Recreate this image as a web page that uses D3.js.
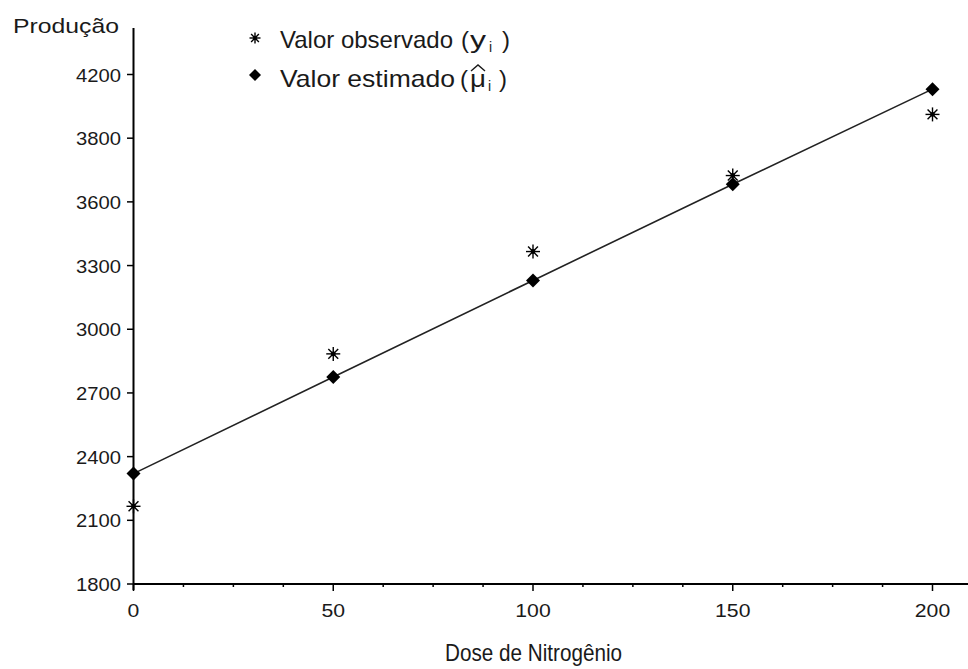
<!DOCTYPE html>
<html><head><meta charset="utf-8">
<script src="https://cdn.jsdelivr.net/npm/d3@7"></script>
<style>
body{margin:0;background:#fff;}
svg{display:block;font-family:Arial,"Liberation Sans",sans-serif;}
</style></head>
<body>
<svg id="chart" width="968" height="669"></svg>
<script>
const doses = [0, 50, 100, 150, 200];
const observed = [2166, 2884, 3366, 3724, 4012];
const estimated = [2320, 2775, 3230, 3683, 4131];
const yTickValues = [1800, 2100, 2400, 2700, 3000, 3300, 3600, 3900, 4200];
const yTickLabels = ["1800", "2100", "2400", "2700", "3000", "3300", "3600", "3800", "4200"];
const xTickValues = [0, 50, 100, 150, 200];
const xMinorTicks = d3.range(0, 210.1, 12.5);

const svg = d3.select("#chart");
const x = d3.scaleLinear().domain([0, 200]).range([133.5, 932.5]);
const y = d3.scaleLinear().domain([1800, 4200]).range([584, 74.5]);
const ink = "#1a1a1a";

// axes
const xAxis = svg.append("g").attr("transform", "translate(0,584)");
xAxis.append("line").attr("x1", 133).attr("x2", 968).attr("y1", 0).attr("y2", 0).attr("stroke", "#000").attr("stroke-width", 2);
xAxis.selectAll("line.minor").data(xMinorTicks.filter(d => d % 50 !== 0)).enter().append("line")
  .attr("class", "minor").attr("x1", d => x(d)).attr("x2", d => x(d)).attr("y1", 0).attr("y2", 3)
  .attr("stroke", "#000").attr("stroke-width", 1.5);
xAxis.selectAll("line.major").data(xTickValues).enter().append("line")
  .attr("class", "major").attr("x1", d => x(d)).attr("x2", d => x(d)).attr("y1", 0).attr("y2", 7)
  .attr("stroke", "#000").attr("stroke-width", 1.5);
xAxis.selectAll("text").data(xTickValues).enter().append("text")
  .attr("x", d => x(d)).attr("y", 33).attr("text-anchor", "middle")
  .attr("font-size", 19).attr("fill", ink)
  .attr("textLength", d => String(d).length * 11.8).attr("lengthAdjust", "spacingAndGlyphs")
  .text(d => d);

const yAxis = svg.append("g");
yAxis.append("line").attr("x1", 133.5).attr("x2", 133.5).attr("y1", 28).attr("y2", 590).attr("stroke", "#000").attr("stroke-width", 2);
yAxis.selectAll("line.tick").data(yTickValues).enter().append("line")
  .attr("class", "tick").attr("x1", 127).attr("x2", 134).attr("y1", d => y(d)).attr("y2", d => y(d))
  .attr("stroke", "#000").attr("stroke-width", 1.5);
yAxis.selectAll("text").data(yTickValues).enter().append("text")
  .attr("x", 121).attr("y", d => y(d) + 7).attr("text-anchor", "end")
  .attr("font-size", 18.5).attr("fill", ink)
  .attr("textLength", 45).attr("lengthAdjust", "spacingAndGlyphs")
  .text((d, i) => yTickLabels[i]);

// axis titles
svg.append("text").attr("x", 13).attr("y", 33).attr("font-size", 21).attr("fill", ink)
  .attr("textLength", 106).attr("lengthAdjust", "spacingAndGlyphs").text("Produção");
svg.append("text").attr("x", 445).attr("y", 661).attr("font-size", 24).attr("fill", ink)
  .attr("textLength", 177).attr("lengthAdjust", "spacingAndGlyphs").text("Dose de Nitrogênio");

// fitted line
const line = d3.line().x((d, i) => x(doses[i])).y(d => y(d));
svg.append("path").datum(estimated).attr("d", line).attr("fill", "none").attr("stroke", "#222").attr("stroke-width", 1.6);

// markers
function star(g, cx, cy, r, sw) {
  const s = g.append("g").attr("transform", `translate(${cx},${cy})`);
  [0, 45, 90, 135].forEach(a => {
    const rad = a * Math.PI / 180;
    s.append("line").attr("x1", -r * Math.cos(rad)).attr("y1", -r * Math.sin(rad))
      .attr("x2", r * Math.cos(rad)).attr("y2", r * Math.sin(rad)).attr("stroke", "#000").attr("stroke-width", sw);
  });
  s.append("circle").attr("r", r * 0.35).attr("fill", "#000");
}
function diamond(g, cx, cy, r) {
  g.append("path").attr("d", `M${cx},${cy - r}L${cx + r},${cy}L${cx},${cy + r}L${cx - r},${cy}Z`).attr("fill", "#000");
}
const marks = svg.append("g");
estimated.forEach((v, i) => diamond(marks, x(doses[i]), y(v), 7));
observed.forEach((v, i) => star(marks, x(doses[i]), y(v), 7, 1.4));

// legend
const lg = svg.append("g");
star(lg, 255, 38, 5.5, 1.4);
diamond(lg, 255, 75, 6);
function legendText(yb, label, sym, xEnd, xParen, xSym, xSub, xClose, hat) {
  lg.append("text").attr("x", 280).attr("y", yb).attr("font-size", 24).attr("fill", ink)
    .attr("textLength", xEnd - 280).attr("lengthAdjust", "spacingAndGlyphs").text(label);
  lg.append("text").attr("x", xParen).attr("y", yb).attr("font-size", 24).attr("fill", ink).text("(");
  lg.append("text").attr("x", xSym).attr("y", yb).attr("font-size", 24).attr("fill", ink)
    .attr("textLength", 16).attr("lengthAdjust", "spacingAndGlyphs").text(sym);
  if (hat) lg.append("path").attr("d", `M${xSym + 1},${yb - 16}L${xSym + 8},${yb - 22}L${xSym + 15},${yb - 16}`)
    .attr("fill", "none").attr("stroke", ink).attr("stroke-width", 1.4);
  lg.append("text").attr("x", xSub).attr("y", yb + 4).attr("font-size", 14).attr("fill", ink).text("i");
  lg.append("text").attr("x", xClose).attr("y", yb).attr("font-size", 24).attr("fill", ink).text(")");
}
legendText(48, "Valor observado", "y", 453, 461, 470, 489, 502, false);
legendText(87, "Valor estimado", "μ", 455, 460, 470, 488, 499, true);
</script>
</body></html>
